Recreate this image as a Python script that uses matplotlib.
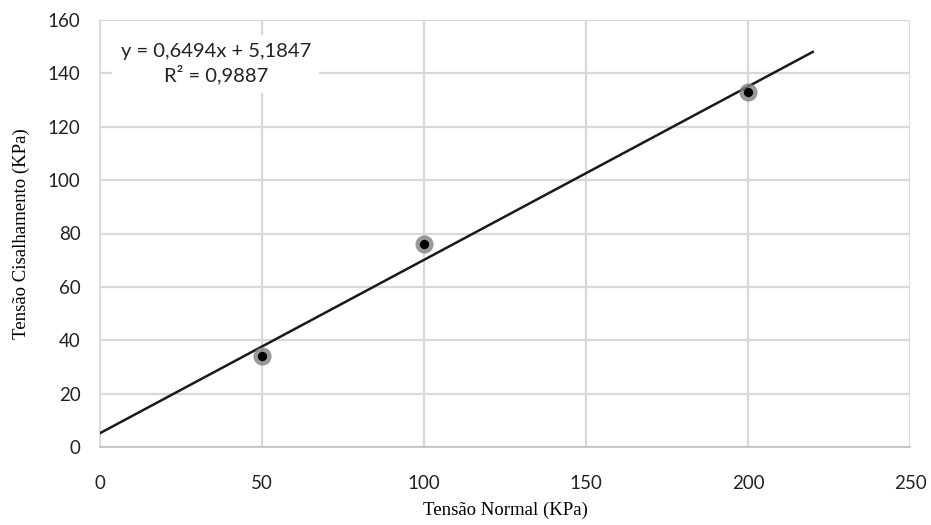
import matplotlib
matplotlib.use("Agg")
import matplotlib.pyplot as plt
import numpy as np

# Data
normal_stress = [50, 100, 200]
shear_stress = [34, 76, 133]
slope = 0.6494
intercept = 5.1847
r2 = 0.9887
trend_x = [0, 220]
x_ticks = [0, 50, 100, 150, 200, 250]
y_ticks = [0, 20, 40, 60, 80, 100, 120, 140, 160]

fig = plt.figure(figsize=(9.31, 5.25), dpi=100)
ax = fig.add_axes([100/931, 78/525, 810/931, 427/525])

ax.set_xlim(0, 250)
ax.set_ylim(0, 160)
ax.set_xticks(x_ticks)
ax.set_yticks(y_ticks)
ax.grid(True, color="#d9d9d9", linewidth=1.6)
ax.set_axisbelow(True)
for s in ["top", "right"]:
    ax.spines[s].set_visible(False)
ax.spines["left"].set_color("#d9d9d9")
ax.spines["bottom"].set_color("#bfbfbf")
ax.spines["left"].set_linewidth(1.2)
ax.spines["bottom"].set_linewidth(1.2)
ax.tick_params(axis="x", length=0, labelsize=13.5, colors="#222222", pad=20)
ax.tick_params(axis="y", length=0, labelsize=13.5, colors="#222222", pad=14)
for lab in ax.get_xticklabels() + ax.get_yticklabels():
    lab.set_family("Lato")

tx = np.array(trend_x, dtype=float)
ax.plot(tx, slope * tx + intercept, color="#1a1a1a", linewidth=1.8, zorder=3)

ax.scatter(normal_stress, shear_stress, s=170, color="#808080", alpha=0.8, zorder=4, linewidths=0)
ax.scatter(normal_stress, shear_stress, s=45, color="#000000", zorder=5, linewidths=0)

eq = f"y = {slope:.4f}x + {intercept:.4f}".replace(".", ",")
r2t = f"R² = {r2:.4f}".replace(".", ",")
ax.text(0.143, 0.945, eq + "\n" + r2t, transform=ax.transAxes, ha="center", va="top",
        fontsize=14.5, family="Lato", color="#222222", linespacing=1.25,
        bbox=dict(facecolor="white", edgecolor="none", pad=6))

ax.set_xlabel("Tensão Normal (KPa)", family="Liberation Serif", fontsize=13.5, labelpad=7)
ax.set_ylabel("Tensão Cisalhamento (KPa)", family="Liberation Serif", fontsize=13.5, labelpad=13)

fig.savefig("out.png", dpi=100)
